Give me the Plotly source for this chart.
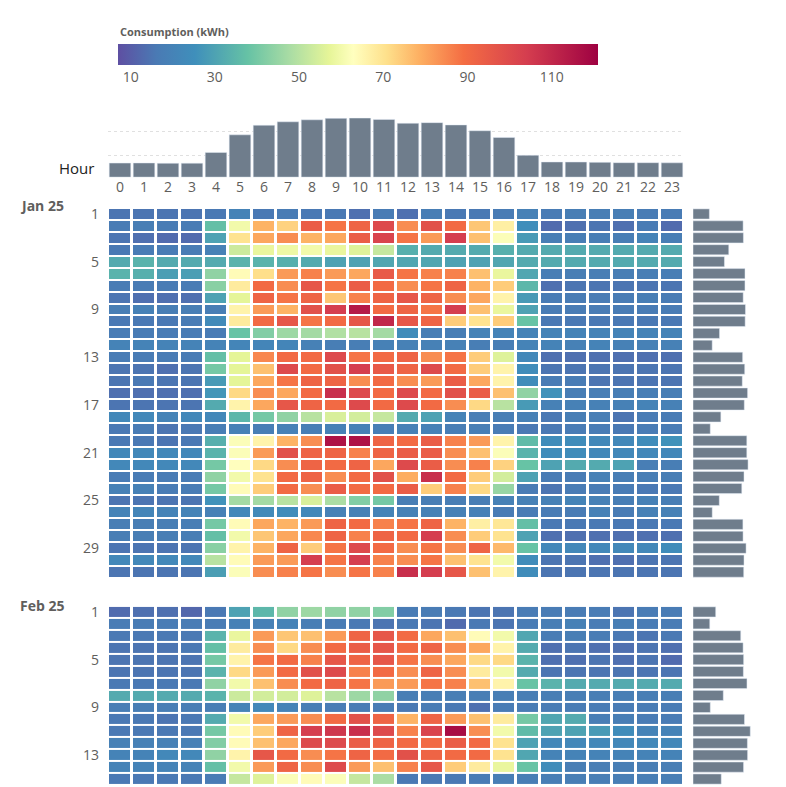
import plotly.graph_objects as go

HOURS = list(range(24))

jan_days = list(range(1, 32))
jan_values = [
    [15, 15, 15, 15, 16, 20, 16, 17, 16, 16, 14, 17, 14, 18, 16, 16, 17, 19, 17, 18, 18, 18, 17, 17],
    [17, 18, 17, 17, 37, 60, 78, 73, 94, 88, 92, 100, 84, 98, 90, 75, 67, 25, 13, 14, 15, 14, 17, 13],
    [15, 14, 13, 13, 30, 70, 80, 84, 78, 80, 94, 102, 88, 82, 104, 76, 62, 28, 18, 18, 18, 18, 20, 18],
    [16, 17, 17, 17, 19, 53, 58, 59, 60, 58, 56, 52, 33, 32, 32, 32, 33, 32, 32, 32, 32, 32, 32, 32],
    [32, 34, 32, 32, 32, 34, 34, 33, 32, 30, 30, 31, 31, 31, 30, 30, 31, 32, 32, 32, 32, 32, 32, 32],
    [34, 33, 29, 29, 44, 64, 71, 82, 86, 82, 80, 95, 88, 86, 86, 76, 58, 31, 18, 18, 18, 18, 18, 18],
    [17, 17, 17, 17, 43, 68, 90, 84, 96, 88, 94, 90, 84, 88, 92, 78, 74, 35, 14, 15, 15, 15, 15, 15],
    [15, 14, 14, 14, 30, 57, 92, 88, 92, 75, 86, 92, 96, 92, 84, 80, 66, 28, 17, 17, 17, 17, 18, 17],
    [18, 19, 18, 18, 18, 66, 82, 78, 98, 104, 114, 90, 92, 88, 104, 76, 58, 30, 17, 17, 17, 17, 17, 17],
    [16, 16, 16, 17, 23, 68, 90, 96, 88, 90, 96, 110, 96, 92, 74, 70, 74, 38, 16, 16, 16, 16, 16, 16],
    [17, 17, 17, 17, 17, 38, 42, 46, 47, 49, 50, 47, 24, 18, 18, 20, 20, 20, 20, 20, 20, 20, 20, 20],
    [20, 20, 20, 20, 20, 21, 21, 21, 19, 18, 18, 19, 19, 19, 19, 18, 18, 20, 20, 19, 20, 19, 19, 19],
    [17, 17, 17, 17, 37, 57, 85, 90, 90, 100, 88, 90, 92, 84, 88, 74, 56, 22, 14, 14, 14, 14, 14, 14],
    [15, 15, 14, 15, 40, 57, 76, 100, 90, 98, 104, 95, 92, 100, 90, 74, 66, 24, 15, 15, 15, 15, 15, 15],
    [15, 16, 15, 15, 28, 57, 80, 88, 92, 92, 84, 90, 84, 82, 94, 80, 66, 24, 17, 17, 15, 15, 15, 15],
    [14, 14, 14, 14, 27, 72, 84, 80, 90, 108, 100, 90, 100, 90, 98, 94, 76, 44, 26, 18, 18, 18, 18, 18],
    [15, 15, 15, 15, 32, 66, 80, 96, 92, 90, 100, 90, 100, 90, 84, 72, 50, 28, 19, 19, 19, 19, 20, 19],
    [22, 22, 20, 22, 22, 35, 40, 44, 50, 55, 54, 52, 32, 30, 20, 18, 18, 19, 16, 18, 18, 15, 17, 17],
    [16, 17, 15, 16, 18, 19, 18, 19, 18, 19, 19, 18, 19, 19, 18, 18, 17, 16, 16, 17, 17, 16, 17, 17],
    [16, 16, 15, 16, 33, 62, 66, 78, 84, 116, 116, 92, 90, 94, 86, 82, 66, 36, 24, 24, 22, 22, 24, 26],
    [22, 22, 22, 22, 34, 62, 82, 98, 92, 92, 86, 92, 94, 94, 84, 76, 62, 34, 24, 24, 22, 22, 22, 22],
    [22, 22, 22, 22, 40, 63, 72, 84, 92, 90, 92, 80, 100, 94, 84, 86, 73, 38, 30, 32, 32, 30, 18, 18],
    [17, 17, 17, 17, 44, 60, 70, 90, 92, 84, 90, 98, 79, 108, 90, 74, 54, 30, 17, 17, 19, 18, 18, 18],
    [19, 19, 17, 17, 40, 64, 74, 90, 84, 94, 90, 90, 94, 74, 86, 72, 45, 17, 15, 17, 17, 17, 16, 16],
    [15, 15, 15, 15, 26, 47, 47, 50, 55, 48, 42, 40, 18, 18, 18, 18, 19, 19, 19, 20, 19, 18, 19, 18],
    [20, 21, 20, 20, 19, 22, 23, 24, 22, 19, 19, 20, 19, 19, 19, 19, 17, 17, 17, 17, 19, 17, 19, 19],
    [18, 18, 18, 18, 40, 64, 80, 78, 82, 92, 90, 86, 88, 92, 78, 67, 69, 37, 16, 16, 16, 16, 16, 16],
    [18, 18, 18, 18, 37, 60, 75, 80, 85, 92, 86, 92, 90, 104, 84, 74, 70, 30, 14, 14, 14, 14, 14, 14],
    [15, 15, 15, 15, 43, 66, 78, 92, 74, 88, 100, 90, 84, 88, 84, 92, 77, 38, 22, 22, 22, 22, 22, 24],
    [22, 22, 22, 22, 50, 64, 82, 82, 104, 88, 104, 86, 84, 88, 76, 70, 60, 24, 15, 15, 14, 14, 15, 15],
    [15, 15, 15, 15, 29, 62, 84, 86, 88, 84, 88, 86, 108, 104, 96, 76, 66, 24, 15, 15, 15, 15, 15, 15],
]

feb_days = list(range(1, 16))
feb_values = [
    [13, 14, 14, 12, 16, 30, 35, 44, 46, 44, 44, 42, 17, 17, 16, 15, 15, 17, 17, 17, 17, 15, 17, 17],
    [17, 17, 17, 17, 17, 19, 19, 20, 18, 17, 16, 15, 16, 15, 13, 16, 15, 17, 18, 19, 17, 18, 17, 17],
    [16, 16, 16, 16, 34, 58, 82, 75, 76, 82, 92, 96, 90, 80, 76, 64, 60, 31, 17, 18, 17, 16, 15, 16],
    [15, 15, 15, 16, 37, 68, 84, 72, 84, 90, 94, 96, 90, 92, 84, 80, 66, 32, 14, 15, 14, 14, 15, 14],
    [15, 15, 15, 15, 40, 66, 88, 90, 86, 96, 92, 96, 88, 84, 80, 72, 72, 34, 14, 14, 15, 14, 15, 13],
    [15, 15, 15, 15, 34, 72, 82, 90, 98, 100, 86, 90, 84, 92, 84, 68, 60, 32, 15, 15, 15, 15, 15, 15],
    [16, 16, 16, 16, 44, 60, 76, 84, 90, 92, 88, 82, 82, 88, 86, 76, 66, 38, 34, 32, 32, 32, 32, 32],
    [32, 32, 32, 32, 34, 53, 54, 54, 56, 50, 46, 44, 18, 18, 18, 18, 18, 18, 18, 18, 18, 18, 18, 18],
    [18, 18, 18, 18, 18, 20, 22, 20, 18, 17, 17, 17, 16, 17, 16, 14, 17, 17, 17, 17, 17, 17, 17, 17],
    [16, 16, 15, 16, 32, 60, 80, 82, 84, 90, 98, 92, 78, 92, 82, 76, 68, 40, 31, 32, 18, 18, 17, 17],
    [16, 16, 16, 16, 40, 64, 74, 92, 104, 106, 108, 100, 86, 102, 118, 84, 60, 36, 30, 30, 28, 24, 20, 20],
    [19, 19, 19, 19, 42, 64, 76, 80, 100, 100, 94, 92, 90, 90, 94, 90, 70, 30, 22, 22, 22, 22, 22, 22],
    [20, 20, 22, 22, 44, 66, 96, 90, 84, 88, 92, 90, 98, 92, 90, 90, 70, 31, 20, 20, 20, 20, 20, 20],
    [20, 20, 20, 20, 37, 60, 82, 92, 84, 100, 82, 76, 86, 96, 74, 68, 58, 38, 24, 18, 18, 18, 18, 18],
    [16, 16, 16, 16, 17, 52, 56, 62, 64, 62, 52, 48, 16, 16, 16, 17, 18, 18, 18, 18, 18, 18, 18, 18],
]

all_rows = jan_values + feb_values
hour_totals = [sum(r[h] for r in all_rows) for h in HOURS]
jan_totals = [sum(r) for r in jan_values]
feb_totals = [sum(r) for r in feb_values]

SCALE = [
    [0.0, "#5e4fa2"], [0.08, "#4a7ab4"], [0.16, "#3f8fbb"], [0.27, "#66c2a5"],
    [0.36, "#abdda4"], [0.44, "#e6f598"], [0.49, "#ffffbf"], [0.56, "#fee08b"],
    [0.63, "#fdae61"], [0.72, "#f46d43"], [0.85, "#d53e4f"], [1.0, "#9e0142"],
]

BAR = "#6f7d8c"
GREY = "#605e5c"
FONT = "Open Sans"
OFF = 8  # page body margin
W, H = 770, 779


def py(px):
    return 1 - (px - OFF) / H


def pxx(px):
    return (px - OFF) / W


fig = go.Figure()

heat_common = dict(
    x=HOURS, colorscale=SCALE, zmin=7, zmax=121, xgap=3, ygap=2,
    hovertemplate="Hour %{x}, day %{y}: %{z} kWh<extra></extra>",
)
fig.add_trace(go.Heatmap(
    z=jan_values, y=jan_days, xaxis="x", yaxis="y", showscale=True,
    colorbar=dict(
        orientation="h", x=pxx(118), xanchor="left", len=480 / W,
        y=py(40), yanchor="top", thickness=21, outlinewidth=0,
        tickvals=[10, 30, 50, 70, 90, 110], ticks="", ypad=0, xpad=0,
        tickfont=dict(size=14, color=GREY, family=FONT),
    ),
    **heat_common,
))
fig.add_trace(go.Heatmap(
    z=feb_values, y=feb_days, xaxis="x", yaxis="y2", showscale=False,
    **heat_common,
))

fig.add_trace(go.Bar(x=HOURS, y=hour_totals, xaxis="x2", yaxis="y3",
                     marker_color=BAR, showlegend=False))
fig.add_trace(go.Bar(x=jan_totals, y=jan_days, orientation="h", xaxis="x3",
                     yaxis="y", marker_color=BAR, showlegend=False, width=0.85))
fig.add_trace(go.Bar(x=feb_totals, y=feb_days, orientation="h", xaxis="x4",
                     yaxis="y2", marker_color=BAR, showlegend=False, width=0.85))

hx = [pxx(108), pxx(684)]
tickfont = dict(size=14, color=GREY, family=FONT)
max_day = max(jan_totals + feb_totals)
max_hour = max(hour_totals)
fig.update_layout(
    width=W, height=H, margin=dict(l=0, r=0, t=0, b=0),
    paper_bgcolor="white", plot_bgcolor="white", bargap=0.1,
    font=dict(family=FONT),
    xaxis=dict(domain=hx, range=[-0.5, 23.5], visible=False),
    xaxis2=dict(domain=hx, range=[-0.5, 23.5], anchor="y3", tickmode="array",
                tickvals=HOURS, tickfont=tickfont, showgrid=False),
    xaxis3=dict(domain=[pxx(693), pxx(752)], range=[0, max_day * 1.03],
                anchor="y", visible=False),
    xaxis4=dict(domain=[pxx(693), pxx(752)], range=[0, max_day * 1.03],
                anchor="y2", visible=False),
    yaxis=dict(domain=[py(577), py(205)], range=[31.5, 0.5], anchor="x",
               tickvals=[1, 5, 9, 13, 17, 21, 25, 29], tickfont=tickfont,
               ticks="", showgrid=False, zeroline=False, ticklabelstandoff=8),
    yaxis2=dict(domain=[py(785), py(605)], range=[15.5, 0.5], anchor="x",
                tickvals=[1, 5, 9, 13], tickfont=tickfont,
                ticks="", showgrid=False, zeroline=False, ticklabelstandoff=8),
    yaxis3=dict(domain=[py(174), py(114)], range=[0, max_hour * 1.01],
                anchor="x2", showticklabels=False, gridcolor="#e0e0e0",
                griddash="dot", tickvals=[1300, 2700], zeroline=False),
    annotations=[
        dict(text="<b>Consumption (kWh)</b>", x=pxx(118), y=py(28), xref="paper",
             yref="paper", xanchor="left", yanchor="middle", showarrow=False,
             font=dict(size=11, color=GREY, family=FONT)),
        dict(text="<b>Jan 25</b>", x=pxx(18), y=py(203), xref="paper", yref="paper",
             xanchor="left", yanchor="middle", showarrow=False,
             font=dict(size=14, color=GREY, family=FONT)),
        dict(text="<b>Feb 25</b>", x=pxx(18), y=py(605), xref="paper", yref="paper",
             xanchor="left", yanchor="middle", showarrow=False,
             font=dict(size=14, color=GREY, family=FONT)),
        dict(text="Hour", x=pxx(96), y=py(165), xref="paper", yref="paper",
             xanchor="right", yanchor="middle", showarrow=False,
             font=dict(size=15, color="#222222", family=FONT)),
    ],
)

fig.write_html("out.html")
